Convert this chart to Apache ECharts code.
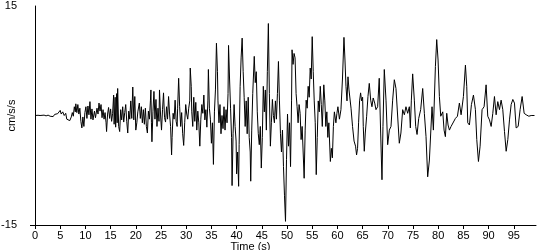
<!DOCTYPE html>
<html>
<head>
<meta charset="utf-8">
<script src="https://cdn.jsdelivr.net/npm/echarts@6/dist/echarts.min.js"></script>
<style>
html,body{margin:0;padding:0;background:#fff;}
#chart{width:550px;height:250px;}
</style>
</head>
<body>
<div id="chart"></div>
<script>
// [time (s), acceleration (cm/s/s)]
const trace0to15 = [[0,0],[0.6,0.03],[1.0,0],[1.1,0.2],[1.2,0],[1.8,0.05],[2.2,-0.05],[2.6,0.05],[3.0,-0.1],[3.3,0.1],[3.6,-0.15],[3.9,0.15],[4.2,-0.1],[4.5,0.25],[4.8,0.1],[5.0,0.7],[5.2,0.2],[5.5,0.5],[5.8,0.0],[6.1,0.3],[6.3,-0.5],[6.6,-0.3],[6.9,-0.7],[7.2,-0.2],[7.4,0.4],[7.6,-0.1],[7.8,1.2],[8.0,0.5],[8.1,1.6],[8.3,0.4],[8.5,1.5],[8.7,0.2],[8.9,1.0],[9.1,-0.8],[9.3,-1.7],[9.5,-0.2],[9.7,-1.5],[9.9,0.4],[10.1,1.2],[10.3,-0.4],[10.5,1.3],[10.7,0.1],[10.9,1.9],[11.1,-0.5],[11.3,0.9],[11.5,-0.6],[11.8,0.6],[12.0,-0.3],[12.3,1.0],[12.5,0.2],[12.7,1.7],[12.9,0.6],[13.1,1.5],[13.3,-0.3],[13.5,0.8],[13.7,-0.5],[13.9,0.4],[14.1,-1.0],[14.2,-2.2],[14.4,0.2],[14.6,1.1],[14.8,-0.4],[15.0,0.9],[15.2,-0.8],[15.4,0.3]];
const trace15to31 = [[15.6,2.8],[15.7,-1.2],[15.9,2.5],[16.0,-1.6],[16.2,3.0],[16.3,-1.0],[16.4,3.7],[16.6,-1.5],[16.8,-2.2],[17.0,0.8],[17.2,-0.6],[17.4,1.2],[17.6,-0.9],[17.8,0.4],[18.0,1.5],[18.2,-0.8],[18.4,-2.4],[18.6,0.6],[18.8,-0.5],[19.0,2.0],[19.2,-0.4],[19.4,3.9],[19.6,-0.6],[19.8,2.6],[20.0,-2.0],[20.2,-1.0],[20.4,0.5],[20.7,1.7],[20.9,-0.4],[21.1,1.2],[21.3,-1.0],[21.5,0.8],[21.7,-1.2],[21.9,1.0],[22.1,-1.5],[22.3,-2.4],[22.5,0.6],[22.7,-0.5],[22.9,2.0],[23.0,3.5],[23.1,-1.0],[23.2,-3.6],[23.4,0.5],[23.6,3.3],[23.8,-0.5],[24.0,2.2],[24.2,-1.5],[24.4,1.0],[24.6,-0.8],[24.7,3.5],[24.9,0.2],[25.1,-2.0],[25.3,0.8],[25.5,3.1],[25.7,-0.3],[25.9,-0.9],[26.1,1.2],[26.3,-0.5],[26.5,2.6],[26.7,0.2],[26.9,-1.5],[27.1,-5.4],[27.2,-3.0],[27.4,0.3],[27.6,-0.5],[27.8,2.1],[28.0,-0.8],[28.2,-1.5],[28.3,1.0],[28.5,5.1],[28.7,1.2],[28.9,-1.5],[29.1,0.4],[29.3,-2.5],[29.5,-4.1],[29.7,-1.0],[29.9,1.5],[30.1,0.2],[30.3,-0.5],[30.5,1.0],[30.7,2.0],[30.8,6.5],[31.0,4.0],[31.1,0.5]];
const trace31to51 = [[31.3,-1.5],[31.5,2.5],[31.7,-0.8],[31.9,1.8],[32.1,-2.0],[32.3,0.6],[32.5,-1.0],[32.7,-4.2],[32.9,-0.5],[33.1,1.5],[33.3,0.3],[33.5,2.8],[33.7,-0.6],[33.9,0.8],[34.1,-1.6],[34.3,2.0],[34.4,6.3],[34.6,1.0],[34.8,-0.5],[35.0,-3.8],[35.2,-1.0],[35.4,-6.7],[35.6,0.5],[35.8,3.5],[36.0,9.9],[36.2,6.0],[36.3,2.0],[36.5,-1.0],[36.7,1.5],[36.9,-2.5],[37.1,0.0],[37.3,-1.8],[37.5,1.2],[37.7,-2.0],[37.9,0.8],[38.1,-1.0],[38.3,3.0],[38.4,9.6],[38.6,5.0],[38.8,1.0],[39.0,-3.0],[39.1,-9.6],[39.3,-2.5],[39.5,1.5],[39.7,-1.5],[39.9,-3.5],[40.0,-8.0],[40.2,-5.0],[40.4,-9.7],[40.5,-4.0],[40.7,4.0],[40.9,8.0],[41.1,10.6],[41.3,6.0],[41.5,2.5],[41.7,-1.5],[41.9,2.0],[42.1,-2.5],[42.3,2.5],[42.5,-3.0],[42.7,-5.0],[42.8,-9.0],[43.0,-2.0],[43.2,3.0],[43.5,8.1],[43.7,4.5],[43.9,6.0],[44.1,0.5],[44.3,-2.5],[44.5,-4.0],[44.7,-1.5],[44.9,-7.2],[45.1,-3.0],[45.3,4.0],[45.5,0.5],[45.7,3.5],[45.9,-2.0],[46.1,6.0],[46.3,12.6],[46.5,3.0],[46.7,-4.2],[46.9,-1.0],[47.1,2.2],[47.3,0.0],[47.5,-1.0],[47.7,2.0],[47.9,-0.5],[48.1,3.0],[48.3,7.4],[48.5,2.0],[48.7,-2.5],[48.9,-5.0],[49.1,-2.0],[49.3,-7.0],[49.5,-11.0],[49.7,-14.5],[49.9,-6.0],[50.1,0.2],[50.3,-4.2],[50.5,-1.0],[50.7,-7.0]];
const trace51to65 = [[50.9,2.0],[51.0,9.0],[51.2,7.0],[51.4,8.5],[51.6,7.9],[51.8,3.0],[52.0,1.2],[52.2,-1.0],[52.4,1.5],[52.6,0.3],[52.8,-3.3],[53.0,-1.5],[53.2,-5.0],[53.4,-8.6],[53.6,-2.0],[53.8,2.1],[54.0,1.0],[54.2,4.0],[54.4,2.5],[54.6,6.5],[54.8,5.0],[55.0,10.8],[55.2,6.0],[55.4,2.0],[55.6,-1.0],[55.8,-8.1],[56.0,-3.0],[56.2,2.0],[56.4,0.5],[56.6,4.0],[56.8,1.5],[57.0,-1.5],[57.3,4.2],[57.5,2.0],[57.7,-1.5],[57.9,0.5],[58.1,-3.0],[58.3,-1.0],[58.6,-6.3],[58.8,-4.5],[59.0,-5.8],[59.2,-1.5],[59.4,0.5],[59.7,-1.0],[59.9,0.3],[60.1,1.2],[60.4,-0.5],[60.7,0.8],[61.0,5.0],[61.3,10.7],[61.5,7.6],[61.7,4.0],[61.9,2.0],[62.1,5.3],[62.3,3.5],[62.5,3.6],[62.7,1.0],[63.0,-1.5],[63.3,-3.5],[63.6,-4.2],[63.8,-5.4],[64.0,-4.5],[64.2,-1.0],[64.4,2.0],[64.6,3.1],[64.8,2.0],[65.0,2.5]];
const trace65to100 = [[65.13,-1.5],[65.33,-4.9],[65.53,-2.4],[65.8,-0.1],[66.06,2.6],[66.32,4.4],[66.6,2.1],[66.85,1.2],[67.1,2.4],[67.4,1.7],[67.65,0.8],[67.98,1.2],[68.3,5.1],[68.58,-2.4],[68.84,-8.8],[69.04,-1.5],[69.3,6.3],[69.64,2.1],[69.97,-4.0],[70.3,-2.0],[70.63,-1.5],[70.96,2.1],[71.29,4.9],[71.62,3.7],[71.95,3.5],[72.28,-3.8],[72.6,-2.4],[72.95,0.8],[73.28,0.1],[73.6,1.2],[73.94,0.3],[74.27,1.2],[74.47,-1.7],[74.67,2.1],[74.93,5.7],[75.26,2.1],[75.53,-1.5],[75.8,-2.6],[76.13,-0.4],[76.52,0.8],[76.92,3.7],[77.25,0.3],[77.58,-2.9],[77.91,-8.4],[78.25,-6.1],[78.51,-2.4],[78.77,1.2],[79.04,-2.0],[79.44,6.7],[79.7,10.4],[79.97,7.6],[80.23,2.6],[80.5,-0.1],[80.9,0.5],[81.16,-2.0],[81.42,-2.9],[81.69,0.3],[81.95,-1.3],[82.22,-2.0],[82.55,-1.5],[82.88,-1.7],[83.41,-0.4],[83.81,-0.1],[84.2,1.7],[84.54,0.1],[85.0,2.6],[85.4,6.9],[85.66,4.0],[85.86,-1.0],[86.19,-1.3],[86.59,1.5],[86.99,2.8],[87.38,0.8],[87.65,-3.3],[87.98,-6.3],[88.31,-4.2],[88.7,0.8],[89.1,1.2],[89.5,4.2],[89.83,-0.1],[90.17,-0.6],[90.5,-1.5],[90.83,0.3],[91.16,2.6],[91.49,0.1],[91.82,1.9],[92.15,0.8],[92.48,2.1],[92.81,0.8],[93.15,-2.2],[93.48,-4.9],[93.81,-3.3],[94.14,-0.6],[94.47,1.5],[94.8,2.2],[95.13,1.7],[95.46,-1.7],[95.86,-1.5],[96.25,0.8],[96.65,2.6],[97.05,0.3],[97.45,0.1],[97.98,-0.1],[98.44,0],[99.1,0]];

const xTickValues = [0,5,10,15,20,25,30,35,40,45,50,55,60,65,70,75,80,85,90,95];
const yTickValues = [-15,15];
const xAxisTitle = 'Time (s)';
const yAxisTitle = 'cm/s/s';

const data = [].concat(trace0to15, trace15to31, trace31to51, trace51to65, trace65to100);

const chart = echarts.init(document.getElementById('chart'), null, {renderer: 'canvas'});
const font = '"Liberation Sans", Arial, sans-serif';
chart.setOption({
  animation: false,
  backgroundColor: '#fff',
  grid: {left: 35, right: 14, top: 6, bottom: 25, containLabel: false, outerBoundsMode: 'none'},
  xAxis: {
    type: 'value', min: 0, max: 99.4,
    axisLine: {show: true, onZero: false, lineStyle: {color: '#000', width: 1}},
    axisTick: {show: true, length: 4, lineStyle: {color: '#000'}, customValues: xTickValues},
    axisLabel: {color: '#000', fontSize: 11, fontFamily: font, margin: 5, customValues: xTickValues},
    splitLine: {show: false},
    name: xAxisTitle, nameLocation: 'middle', nameGap: 16, nameMoveOverlap: false,
    nameTextStyle: {color: '#000', fontSize: 11, fontFamily: font, padding: [0, 70, 0, 0]}
  },
  yAxis: {
    type: 'value', min: -15, max: 15, interval: 30,
    axisLine: {show: true, onZero: false, lineStyle: {color: '#000', width: 1}},
    axisTick: {show: true, length: 5, lineStyle: {color: '#000'}, customValues: [-15]},
    axisLabel: {color: '#000', fontSize: 11, fontFamily: font, margin: 18, customValues: yTickValues},
    splitLine: {show: false},
    name: yAxisTitle, nameLocation: 'middle', nameGap: 18, nameRotate: 90, nameMoveOverlap: false,
    nameTextStyle: {color: '#000', fontSize: 11, fontFamily: font}
  },
  series: [{
    type: 'line', data: data, showSymbol: false, symbol: 'none',
    lineStyle: {color: '#000', width: 1}, sampling: null, silent: true
  }]
});
</script>
</body>
</html>
